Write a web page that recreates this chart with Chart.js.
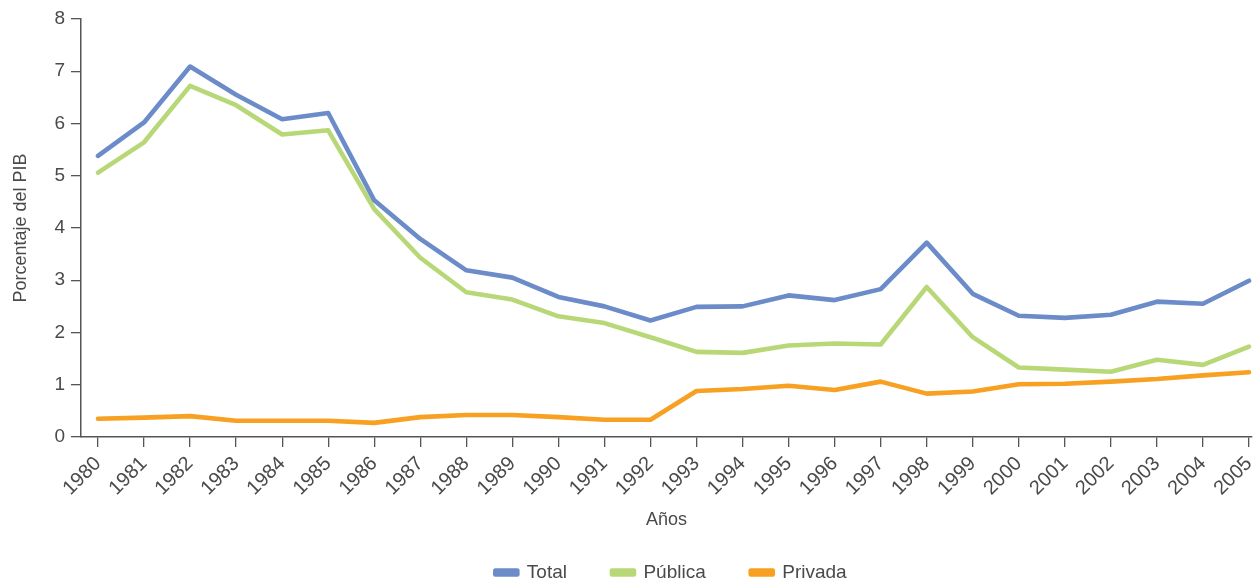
<!DOCTYPE html>
<html>
<head>
<meta charset="utf-8">
<script src="https://cdn.jsdelivr.net/npm/chart.js@4"></script>
<style>
  body { margin: 0; background: #fff; }
  #wrap { width: 1259px; height: 583px; }
</style>
</head>
<body>
<div id="wrap"><canvas id="grafico"></canvas></div>
<script>
const anni = [1980,1981,1982,1983,1984,1985,1986,1987,1988,1989,1990,1991,1992,
              1993,1994,1995,1996,1997,1998,1999,2000,2001,2002,2003,2004,2005];
const totale = [5.38,6.02,7.09,6.55,6.08,6.20,4.53,3.79,3.19,3.05,2.68,2.50,2.23,
                2.49,2.50,2.71,2.62,2.83,3.72,2.74,2.32,2.28,2.34,2.59,2.55,2.99];
const pubblica = [5.06,5.64,6.72,6.35,5.79,5.87,4.36,3.43,2.77,2.63,2.31,2.18,1.91,
                  1.63,1.61,1.75,1.79,1.77,2.87,1.91,1.33,1.29,1.25,1.48,1.38,1.73];
const privata = [0.35,0.37,0.40,0.31,0.31,0.31,0.27,0.38,0.42,0.42,0.38,0.33,0.33,
                 0.88,0.92,0.98,0.90,1.06,0.83,0.87,1.01,1.02,1.06,1.11,1.18,1.24];
const yTicks = [0,1,2,3,4,5,6,7,8];

const punti = (arr) => arr.map((v, i) => ({x: anni[i], y: v}));

const grigio = '#4a4a4a';
const famiglia = '"Liberation Sans", Arial, sans-serif';
const font = {family: famiglia, size: 18};

// sposta la legenda in basso e verso il centro dell'area del grafico
const spostaLegenda = {
    id: 'spostaLegenda',
    beforeLayout(chart) {
        const leg = chart.legend;
        if (leg && !leg._patch) {
            const fit = leg.fit.bind(leg);
            leg.fit = function () { fit(); this.height = 40; };
            leg._patch = true;
        }
    },
    afterLayout(chart) {
        const leg = chart.legend;
        leg.top = 518; leg.bottom = 583;
        leg.left += 40; leg.right += 40;
    }
};

let config = {
    type: 'line',
    data: {
        datasets: [
            {label: 'Total', data: punti(totale), borderColor: '#6b8cc9', backgroundColor: '#6b8cc9'},
            {label: 'Pública', data: punti(pubblica), borderColor: '#b8d878', backgroundColor: '#b8d878'},
            {label: 'Privada', data: punti(privata), borderColor: '#f7a021', backgroundColor: '#f7a021'}
        ]
    },
    options: {
        responsive: false,
        animation: false,
        layout: {padding: {top: 19, right: 7, left: 10, bottom: 0}},
        elements: {
            line: {borderWidth: 4.6, tension: 0, borderCapStyle: 'round', borderJoinStyle: 'round'},
            point: {radius: 0}
        },
        plugins: {
            tooltip: {enabled: false},
            legend: {
                position: 'bottom',
                labels: {
                    color: grigio, font: {family: famiglia, size: 19},
                    boxWidth: 22, boxHeight: 4, padding: 45
                }
            }
        },
        scales: {
            x: {
                type: 'linear',
                min: 1979.631, max: 2005.065,
                afterBuildTicks: (s) => { s.ticks = anni.map(v => ({value: v})); },
                afterFit: (s) => { s.height = 106; s.paddingLeft = 0; s.paddingRight = 0; },
                ticks: {color: grigio, font: {family: famiglia, size: 20}, minRotation: 45, maxRotation: 45, padding: 5,
                        callback: (v) => String(v)},
                grid: {drawOnChartArea: false, drawTicks: true, tickLength: 10, color: '#555', lineWidth: 1.3},
                border: {display: true, color: '#555', width: 1.5},
                title: {display: true, text: 'Años', color: grigio, font: font, padding: {top: 4, bottom: 12}}
            },
            y: {
                min: 0, max: 8,
                afterBuildTicks: (s) => { s.ticks = yTicks.map(v => ({value: v})); },
                afterFit: (s) => { s.width = 71; },
                ticks: {color: grigio, font: {family: famiglia, size: 19}, padding: 6},
                grid: {drawOnChartArea: false, drawTicks: true, tickLength: 10, color: '#555', lineWidth: 1.3},
                border: {display: true, color: '#555', width: 1.5},
                title: {display: true, text: 'Porcentaje del PIB', color: grigio, font: font, padding: 0}
            }
        }
    },
    plugins: [spostaLegenda]
};

let ctx = document.getElementById('grafico');
ctx.width = 1259; ctx.height = 583;
new Chart(ctx, config);
</script>
</body>
</html>
